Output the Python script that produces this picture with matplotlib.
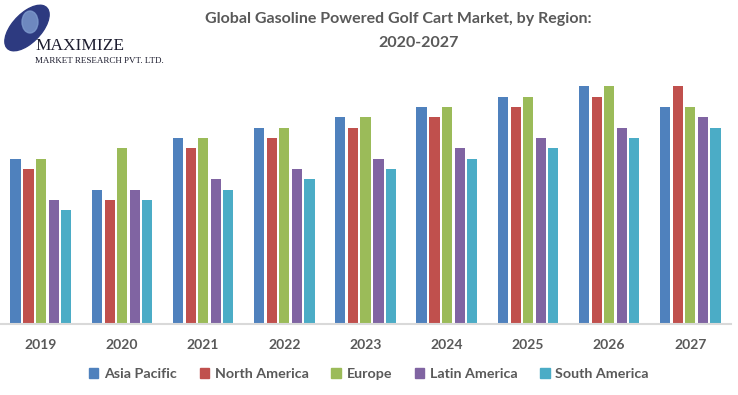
import numpy as np
from matplotlib import pyplot as plt
from matplotlib.patches import Patch, Ellipse

years = ['2019', '2020', '2021', '2022', '2023', '2024', '2025', '2026', '2027']
regions = ['Asia Pacific', 'North America', 'Europe', 'Latin America', 'South America']
asia_pacific = [16, 13, 18, 19, 20, 21, 22, 23, 21]
north_america = [15, 12, 17, 18, 19, 20, 21, 22, 23]
europe = [16, 17, 18, 19, 20, 21, 22, 23, 21]
latin_america = [12, 13, 14, 15, 16, 17, 18, 19, 20]
south_america = [11, 12, 13, 14, 15, 16, 17, 18, 19]
colors = ['#4f81bd', '#c0504d', '#9bbb59', '#8064a2', '#4bacc6']

plt.rcParams['font.family'] = ['Lato', 'DejaVu Sans']
text_col = '#595959'

fig = plt.figure(figsize=(7.38, 3.95), dpi=100)
ax = fig.add_axes([0, 71 / 395, 731 / 738, 254 / 395])

series = [asia_pacific, north_america, europe, latin_america, south_america]
x = np.arange(len(years)) + 0.5
offsets = [-0.31, -0.15, 0.0, 0.16, 0.31]
for vals, off, col, name in zip(series, offsets, colors, regions):
    ax.bar(x + off, vals, width=0.125, color=col, label=name)

ax.set_xlim(0, len(years))
ax.set_ylim(0, 254 / 10.33)
for s in ['top', 'right', 'left']:
    ax.spines[s].set_visible(False)
ax.spines['bottom'].set_color('#d9d9d9')
ax.spines['bottom'].set_linewidth(1.5)
ax.set_yticks([])
ax.set_xticks(x)
ax.set_xticklabels(years, fontsize=10, fontweight='bold', color=text_col)
ax.tick_params(axis='x', length=0, pad=11)

fig.text(398 / 738, 1 - 19 / 395, 'Global Gasoline Powered Golf Cart Market, by Region:',
         ha='center', va='center', fontsize=11.5, fontweight='bold', color=text_col)
fig.text(419 / 738, 1 - 43 / 395, '2020-2027',
         ha='center', va='center', fontsize=11.5, fontweight='bold', color=text_col)

handles = [Patch(color=c, label=r) for c, r in zip(colors, regions)]
fig.legend(handles=handles, loc='center', bbox_to_anchor=(0.5, 1 - 374 / 395), ncol=5,
           frameon=False, handlelength=0.65, handleheight=0.65, handletextpad=0.4,
           columnspacing=1.6, prop={'size': 10.3, 'weight': 'bold'}, labelcolor=text_col)

# logo
fig.patches.append(Ellipse((27 / 738, 1 - 28 / 395), 34 / 738, 48 / 395, angle=-20,
                           transform=fig.transFigure, color='#2d3a80', zorder=1))
fig.patches.append(Ellipse((30 / 738, 1 - 22 / 395), 16 / 738, 22 / 395,
                           transform=fig.transFigure, color='#7f9ccf', zorder=1, alpha=0.8))
fig.text(35 / 738, 1 - 46 / 395, 'MAXIMIZE', family='Liberation Serif', fontsize=12.5,
         color='#1c1c2e', va='center', ha='left')
fig.text(35 / 738, 1 - 61 / 395, 'MARKET RESEARCH PVT. LTD.', family='Liberation Serif',
         fontsize=6.5, color='#1c1c2e', va='center', ha='left')

fig.savefig('out.png', dpi=100)
